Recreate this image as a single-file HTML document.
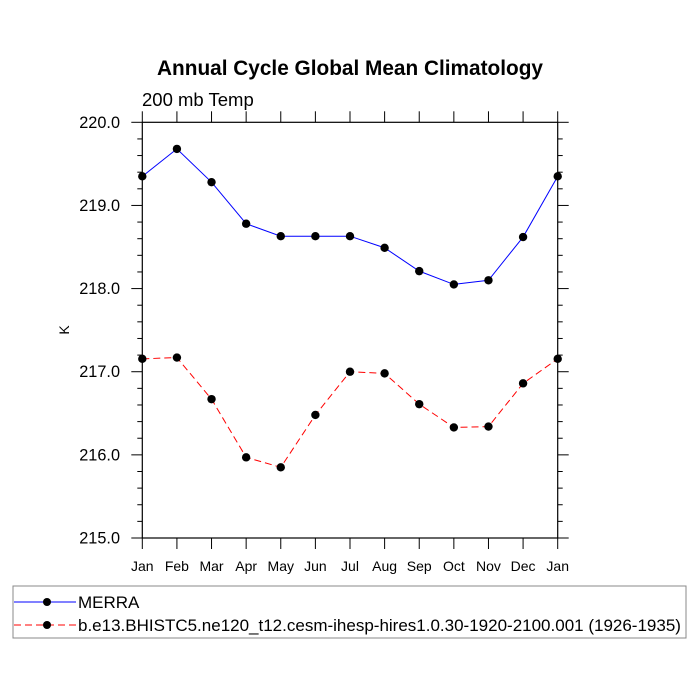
<!DOCTYPE html>
<html><head><meta charset="utf-8"><style>body{margin:0;background:#fff}svg{display:block;font-family:"Liberation Sans",sans-serif}</style></head>
<body>
<svg id="chart" width="700" height="700">
<text x="350" y="75" text-anchor="middle" font-size="20.8" font-weight="bold">Annual Cycle Global Mean Climatology</text>
<text x="142" y="106" font-size="18.5">200 mb Temp</text>
<text x="0" y="0" transform="translate(69,330) rotate(-90)" text-anchor="middle" font-size="14">K</text>
<g id="axes"></g>
<g id="series"></g>
<g>
<rect x="13" y="586" width="673" height="52" fill="none" stroke="#888" stroke-width="1"/>
<g>
<line x1="14" y1="602" x2="76" y2="602" stroke="#00f" stroke-width="1"/>
<circle cx="47" cy="602" r="4" fill="#000"/>
<text x="78" y="608" font-size="17">MERRA</text></g>
<g>
<line x1="14" y1="625" x2="76" y2="625" stroke="#f00" stroke-width="1" stroke-dasharray="7,4"/>
<circle cx="47" cy="625" r="4" fill="#000"/>
<text x="78" y="631" font-size="17">b.e13.BHISTC5.ne120_t12.cesm-ihesp-hires1.0.30-1920-2100.001 (1926-1935)</text></g>
</g>
</svg>
<script>
const months=["Jan","Feb","Mar","Apr","May","Jun","Jul","Aug","Sep","Oct","Nov","Dec","Jan"];
const merra=[219.35,219.68,219.28,218.78,218.63,218.63,218.63,218.49,218.21,218.05,218.10,218.62,219.35];
const model=[217.155,217.17,216.67,215.97,215.85,216.48,217.0,216.98,216.61,216.33,216.34,216.86,217.155];
const yTicks=["215.0","216.0","217.0","218.0","219.0","220.0"];
const NS="http://www.w3.org/2000/svg";
const L=142.3,R=557.7,T=122.3,B=538;
const xs=i=>L+(R-L)*i/12;
const ys=v=>B-(v-215)/5*(B-T);
function mk(t,a,p){const e=document.createElementNS(NS,t);for(const k in a)e.setAttribute(k,a[k]);p.appendChild(e);return e;}
const ax=document.getElementById('axes');
const fr=mk('rect',{x:L,y:T,width:R-L,height:B-T,fill:'none',stroke:'#000','stroke-width':1.2},ax);


months.forEach((m,i)=>{
 const x=xs(i);
 mk('line',{x1:x,y1:B,x2:x,y2:B+11,stroke:'#000','stroke-width':1},ax);
 mk('line',{x1:x,y1:T,x2:x,y2:T-11,stroke:'#000','stroke-width':1},ax);
 const t=mk('text',{x:x,y:B+33,'text-anchor':'middle','font-size':14},ax);
 t.textContent=m;
 
 
});
for(let k=0;k<=25;k++){
 const v=215+k*0.2,y=ys(v),major=k%5===0;
 const len=major?11:5;
 mk('line',{x1:L,y1:y,x2:L-len,y2:y,stroke:'#000','stroke-width':1},ax);
 mk('line',{x1:R,y1:y,x2:R+len,y2:y,stroke:'#000','stroke-width':1},ax);
}
yTicks.forEach(s=>{
 const t=mk('text',{x:120,y:ys(parseFloat(s))+5.5,'text-anchor':'end','font-size':16.3},ax);
 t.textContent=s;
 
 
});
const sg=document.getElementById('series');
function series(vals,color,dash,name){
 const g=mk('g',{},sg);
 
 
 const a={points:vals.map((v,i)=>xs(i)+','+ys(v)).join(' '),fill:'none',stroke:color,'stroke-width':1};
 if(dash)a['stroke-dasharray']=dash;
 mk('polyline',a,g);
 vals.forEach((v,i)=>{const c=mk('circle',{cx:xs(i),cy:ys(v),r:4.2,fill:'#000'},g);
  
  });
}
series(merra,'#00f',null,'series-merra');
series(model,'#f00','7,4','series-model');
</script>
</body></html>
